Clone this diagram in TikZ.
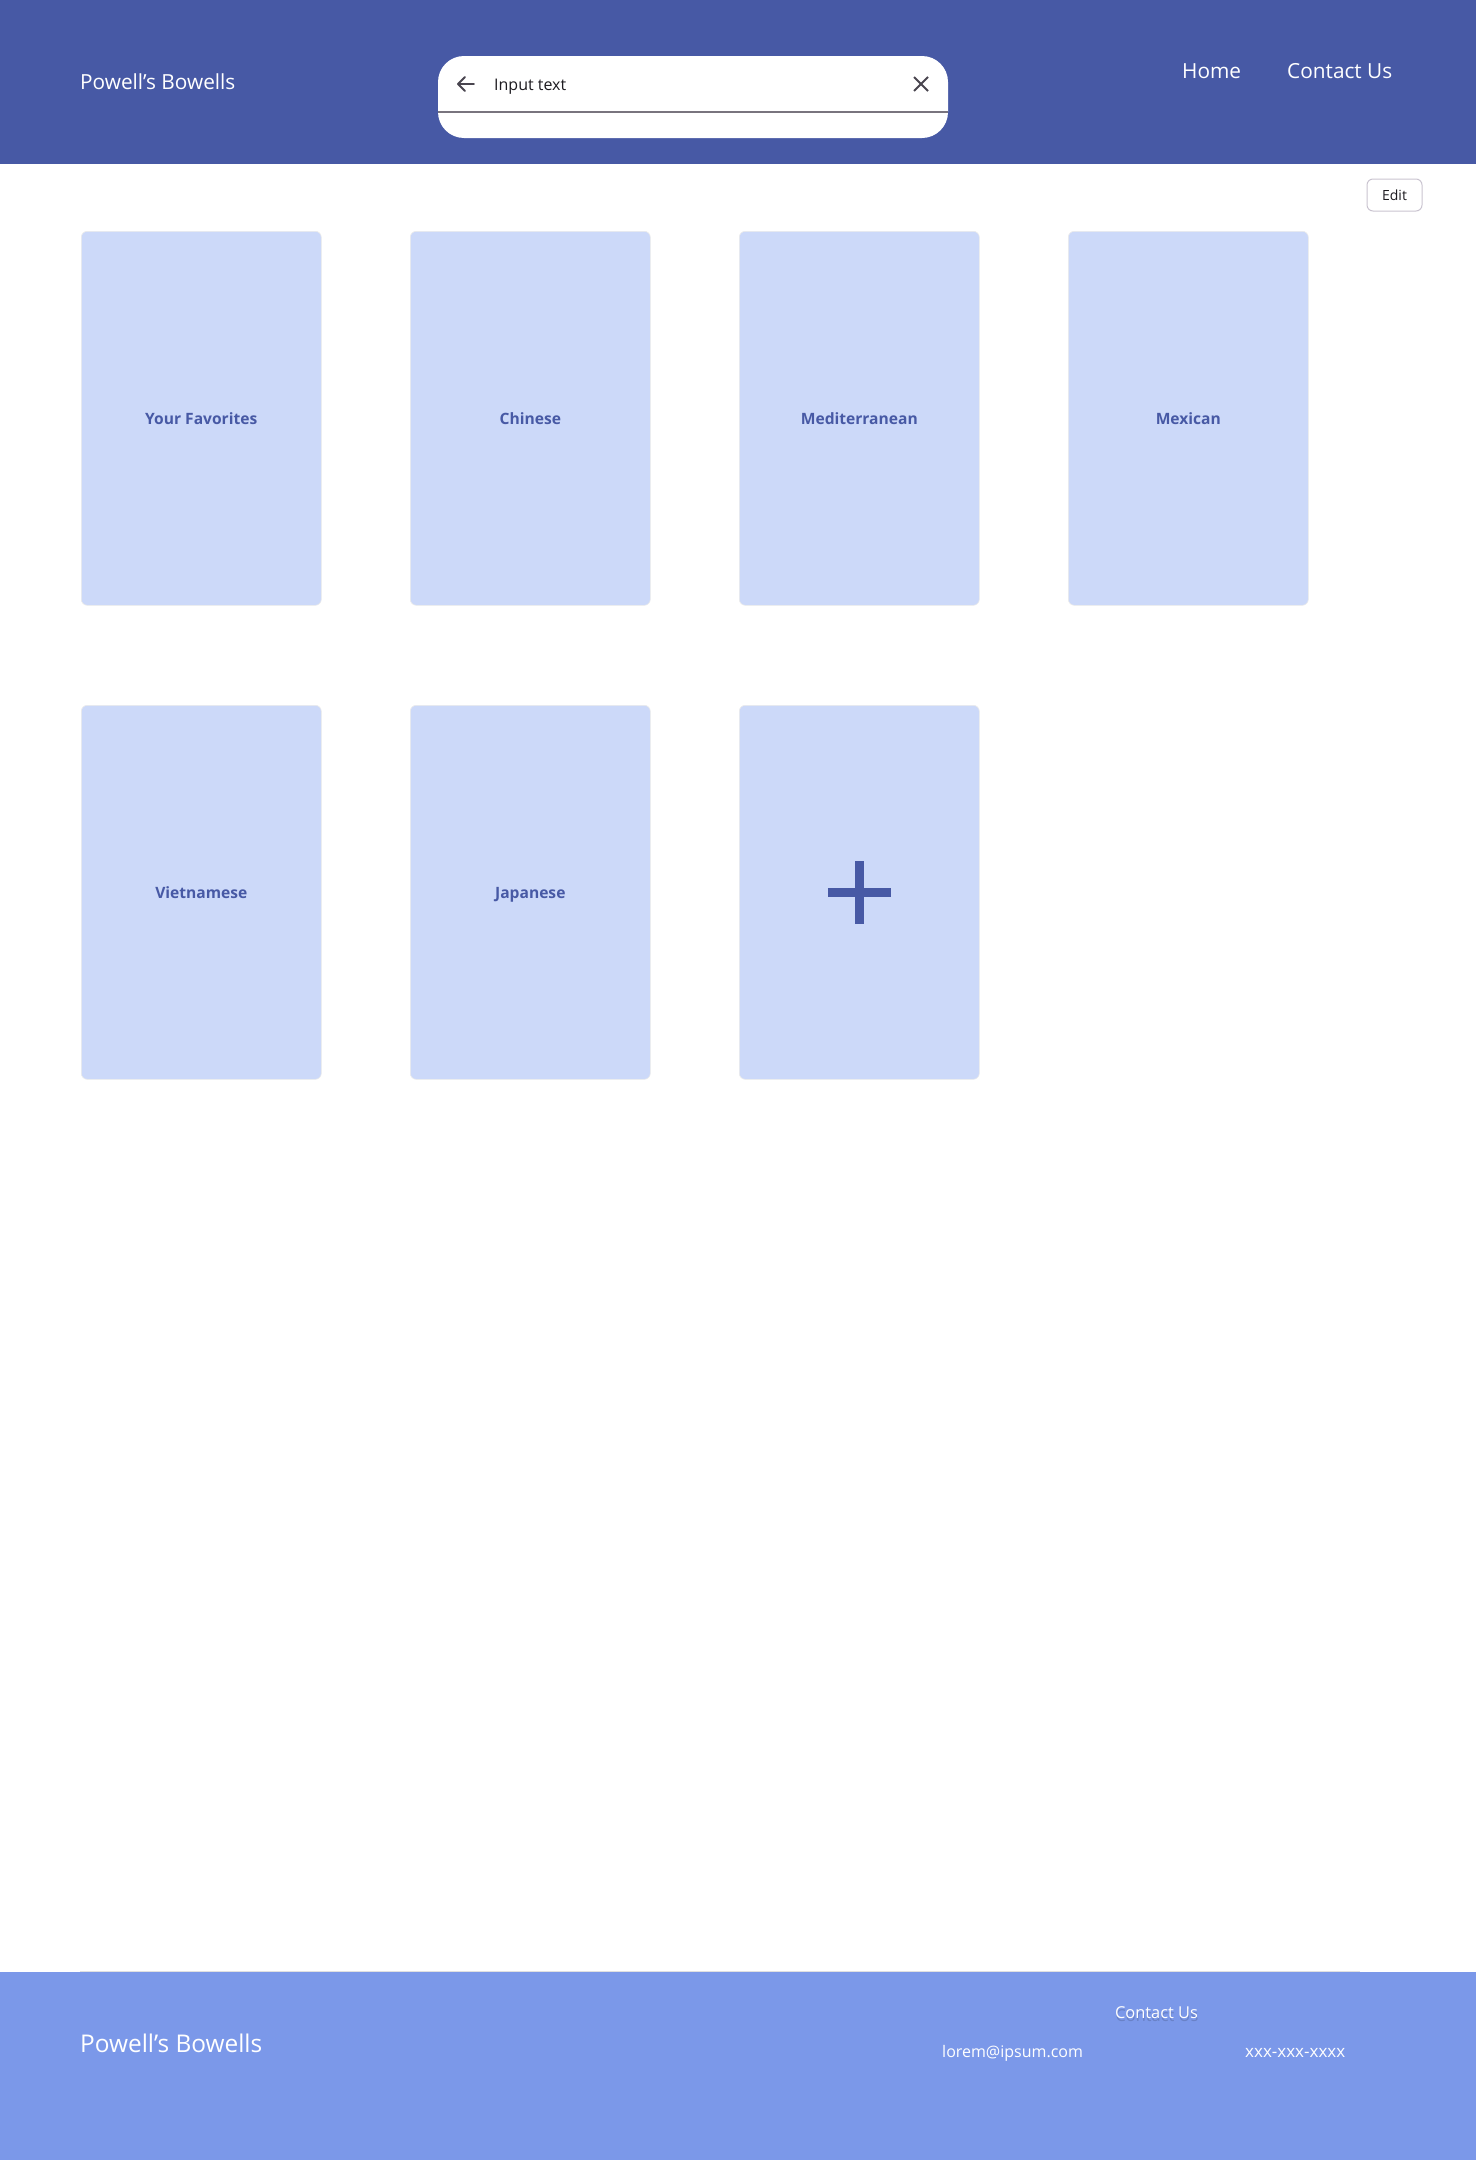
\documentclass[tikz,border=0pt]{standalone}
\usepackage{fontspec}
\setmainfont{Open Sans}
\definecolor{hdr}{RGB}{71,89,165}
\definecolor{cardc}{RGB}{204,217,249}
\definecolor{foot}{RGB}{123,152,233}
\definecolor{divg}{RGB}{121,116,126}
\definecolor{editb}{RGB}{202,196,208}
\definecolor{icon}{RGB}{73,69,79}
\definecolor{ink}{RGB}{29,27,32}
\tikzset{
  wtext/.style={text=white, inner sep=0pt},
  cardbox/.style={fill=cardc, draw=black!8, line width=0.6pt, rounded corners=6pt,
    minimum width=240pt, minimum height=374pt, anchor=north west, inner sep=0pt,
    text height=15pt, text depth=2pt,
    text=hdr, font=\fontsize{15.6}{19}\selectfont\bfseries},
  editbtn/.style={draw=editb, line width=1pt, fill=white, rounded corners=6pt,
    minimum width=55pt, minimum height=32pt, inner sep=0pt, text=ink,
    font=\fontsize{14}{17}\selectfont},
  iconline/.style={draw=icon, line width=1.8pt},
}
\begin{document}
\begin{tikzpicture}[x=1pt,y=-1pt]
\useasboundingbox (0,0) rectangle (1475,2160);
\fill[white] (-5,-5) rectangle (1480,2165);
% header
\fill[hdr] (-5,-5) rectangle (1480,164);
\node[wtext, anchor=base west, font=\fontsize{20.8}{24}\selectfont] (title) at (80,89) {Powell’s Bowells};
\node[wtext, anchor=base west, font=\fontsize{20.8}{24}\selectfont] (home) at (1182,78) {Home};
\node[wtext, anchor=base west, font=\fontsize{20.8}{24}\selectfont] (contact) at (1287,78) {Contact Us};
% search bar
\fill[white, rounded corners=26pt] (438,56) rectangle (948,138);
\draw[divg, line width=1.5pt] (438,112) -- (948,112);
\draw[iconline, line cap=round, line join=round] (465,77) -- (458,84) -- (465,91);
\draw[iconline, line cap=round] (458,84) -- (474,84);
\node[inner sep=0pt, anchor=base west, text=ink, font=\fontsize{16}{19}\selectfont] (input) at (494,90) {Input text};
\draw[iconline] (914,77) -- (928,91);
\draw[iconline] (914,91) -- (928,77);
% edit button
\node[editbtn] (edit) at (1394.5,195) {Edit};
% cards
\node[cardbox] (c1) at (81,231) {Your Favorites};
\node[cardbox] (c2) at (410,231) {Chinese};
\node[cardbox] (c3) at (739,231) {Mediterranean};
\node[cardbox] (c4) at (1068,231) {Mexican};
\node[cardbox] (c5) at (81,705) {Vietnamese};
\node[cardbox] (c6) at (410,705) {Japanese};
\node[cardbox] (c7) at (739,705) {};
\draw[hdr, line width=9pt] ([xshift=-31.5pt]c7.center) -- ([xshift=31.5pt]c7.center);
\draw[hdr, line width=9pt] ([yshift=-31.5pt]c7.center) -- ([yshift=31.5pt]c7.center);
% footer
\fill[foot] (-5,1972) rectangle (1480,2165);
\draw[black!12, line width=1.5pt] (80,1971.5) -- (1360,1971.5);
\node[wtext, anchor=base west, font=\fontsize{24.4}{29}\selectfont] (ftitle) at (80,2052) {Powell’s Bowells};
\node[inner sep=0pt, anchor=base, text=black, opacity=0.15, font=\fontsize{16.4}{19}\selectfont] (fcontactsh) at (1157,2021) {Contact Us};
\node[wtext, anchor=base, font=\fontsize{16.4}{19}\selectfont] (fcontact) at (1156.5,2018) {Contact Us};
\node[wtext, anchor=base west, font=\fontsize{16}{19}\selectfont] (email) at (942,2057) {lorem@ipsum.com};
\node[wtext, anchor=base west, font=\fontsize{17}{19}\selectfont] (phone) at (1245,2057) {xxx-xxx-xxxx};
\end{tikzpicture}
\end{document}
